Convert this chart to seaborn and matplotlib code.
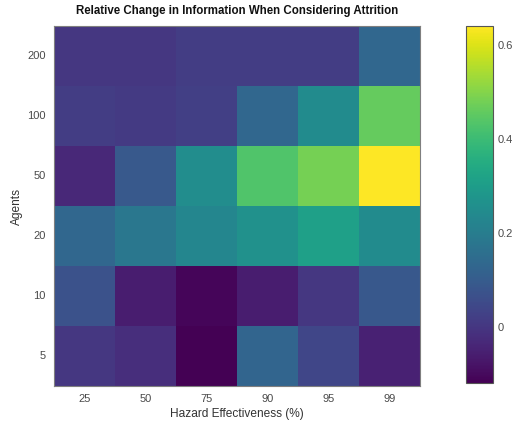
import numpy as np
import pandas as pd
import matplotlib
matplotlib.use("Agg")
import matplotlib.pyplot as plt
import seaborn as sns

# Hazard effectiveness levels (columns) and agent counts (rows, top to bottom)
hazard = ["25", "50", "75", "90", "95", "99"]
agents = ["200", "100", "50", "20", "10", "5"]

# Relative change in information, one list per agent count
row_200 = [0.00, 0.00, 0.015, 0.015, 0.015, 0.13]
row_100 = [0.015, 0.008, 0.02, 0.13, 0.245, 0.46]
row_50 = [-0.035, 0.09, 0.25, 0.43, 0.48, 0.64]
row_20 = [0.13, 0.18, 0.23, 0.26, 0.31, 0.245]
row_10 = [0.07, -0.06, -0.11, -0.06, 0.00, 0.085]
row_5 = [0.00, -0.02, -0.12, 0.125, 0.04, -0.05]

cbar_ticks = [0, 0.2, 0.4, 0.6]
cbar_labels = ["0", "0.2", "0.4", "0.6"]

df = pd.DataFrame([row_200, row_100, row_50, row_20, row_10, row_5],
                  index=agents, columns=hazard)

sns.set_theme(style="white")
plt.rcParams["font.family"] = ["Liberation Sans", "DejaVu Sans"]

text_color = "#4a4a4a"
edge_color = "#7f7f7f"

fig = plt.figure(figsize=(5.17, 4.26), dpi=100)
ax = fig.add_axes([0.1044, 0.0939, 0.708, 0.845])
cax = fig.add_axes([0.901, 0.101, 0.053, 0.838])

sns.heatmap(df, ax=ax, cbar_ax=cax, cmap="viridis",
            vmin=df.values.min(), vmax=df.values.max(),
            linewidths=0, square=False)

ax.set_title("Relative Change in Information When Considering Attrition",
             fontsize=8.3, fontweight="bold", color="#111111", pad=9)
ax.set_xlabel("Hazard Effectiveness (%)", fontsize=8.6, color="#333333", labelpad=3)
ax.set_ylabel("Agents", fontsize=8.6, color="#333333", labelpad=3)

ax.tick_params(axis="both", direction="in", length=3.5, width=0.9,
               color="#222222", labelsize=8, labelcolor=text_color,
               top=True, right=True, bottom=True, left=True, pad=6)
ax.tick_params(axis="y", labelrotation=0)
ax.tick_params(axis="x", labelrotation=0)
for s in ax.spines.values():
    s.set_visible(True)
    s.set_color(edge_color)
    s.set_linewidth(0.8)

cbar = ax.collections[0].colorbar
cbar.set_ticks(cbar_ticks)
cbar.set_ticklabels(cbar_labels)
cax.tick_params(direction="in", length=3.5, width=0.9, color="#222222",
                labelsize=8, labelcolor=text_color, left=True, right=True, pad=3)
cbar.outline.set_visible(True)
cbar.outline.set_edgecolor("#555555")
cbar.outline.set_linewidth(0.8)

fig.savefig("out.png", dpi=100)
